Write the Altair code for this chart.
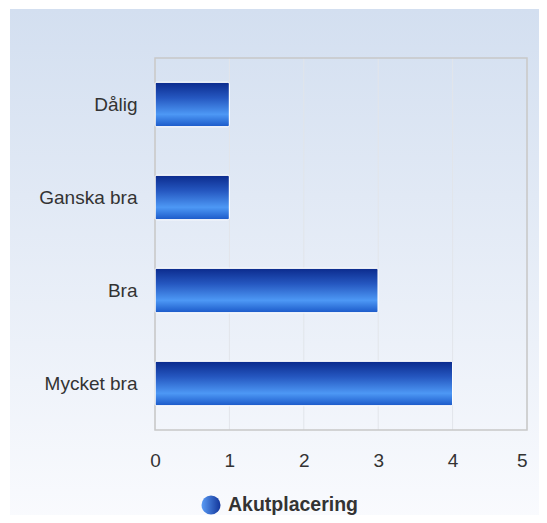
import altair as alt
import pandas as pd

categories = ["Dålig", "Ganska bra", "Bra", "Mycket bra"]
values = [1, 1, 3, 4]
series_name = "Akutplacering"
x_ticks = [0, 1, 2, 3, 4, 5]

df = pd.DataFrame({"kategori": categories, "antal": values, "serie": [series_name] * len(values)})
tick_df = pd.DataFrame({"tick": x_ticks})
legend_df = pd.DataFrame({"serie": [series_name]})
bg_df = pd.DataFrame({"a": [0]})

W, H = 372, 372

bar_grad = alt.Gradient(
    gradient="linear",
    x1=0, y1=0, x2=0, y2=1,
    stops=[
        alt.GradientStop(offset=0, color="#0b2a8c"),
        alt.GradientStop(offset=0.35, color="#2557c0"),
        alt.GradientStop(offset=0.72, color="#4d98f5"),
        alt.GradientStop(offset=1, color="#1a58c8"),
    ],
)
bg_grad = alt.Gradient(
    gradient="linear",
    x1=0, y1=0, x2=0, y2=1,
    stops=[
        alt.GradientStop(offset=0, color="#d3dff0"),
        alt.GradientStop(offset=1, color="#fafbfe"),
    ],
)
legend_grad = alt.Gradient(
    gradient="linear",
    x1=0, y1=0, x2=1, y2=0,
    stops=[
        alt.GradientStop(offset=0, color="#5a9cf5"),
        alt.GradientStop(offset=1, color="#12359a"),
    ],
)

x_scale = alt.Scale(domain=[0, 5], nice=False)

background = alt.Chart(bg_df).mark_rect(fill=bg_grad, clip=False).encode(
    x=alt.value(-145), x2=alt.value(W + 20), y=alt.value(-49), y2=alt.value(H + 100)
)

grid = alt.Chart(tick_df).mark_rule(color="#e2e5ea", strokeWidth=1).encode(
    x=alt.X("tick:Q", scale=x_scale, title=None),
    y=alt.value(0), y2=alt.value(H),
)

border = alt.Chart(bg_df).mark_rect(fill=None, stroke="#c8c8c8", strokeWidth=1.5, clip=False).encode(
    x=alt.value(0), x2=alt.value(W), y=alt.value(0), y2=alt.value(H)
)

bars = alt.Chart(df).mark_bar(
    fill=bar_grad, cornerRadius=2, stroke="white", strokeWidth=1
).encode(
    y=alt.Y("kategori:N", sort=categories, title=None,
            scale=alt.Scale(paddingInner=0.52, paddingOuter=0.26),
            axis=alt.Axis(ticks=False, domain=False, grid=False, labelFontSize=19,
                          labelColor="#333333", labelPadding=18, labelFont="Liberation Sans",
                          zindex=1)),
    x=alt.X("antal:Q", title=None, scale=x_scale,
            axis=alt.Axis(values=x_ticks, format="d", ticks=False, domain=False, grid=False,
                          labelFontSize=19, labelColor="#333333", labelPadding=21,
                          labelFont="Liberation Sans", labelFlush=False, zindex=1,
                          labelAlign={"condition": {"test": "datum.value == 5", "value": "right"},
                                      "value": "center"})),
)

legend_dot = alt.Chart(legend_df).mark_point(
    filled=True, fill=legend_grad, shape="circle", size=360, opacity=1, clip=False
).encode(x=alt.value(56), y=alt.value(H + 75))

legend_text = alt.Chart(legend_df).mark_text(
    align="left", baseline="middle", fontSize=19.5, fontWeight="bold",
    color="#333333", font="Liberation Sans", clip=False
).encode(x=alt.value(73), y=alt.value(H + 75), text="serie:N")

chart = alt.layer(background, grid, border, bars, legend_dot, legend_text).properties(
    width=W, height=H,
    autosize=alt.AutoSizeParams(type="none"),
    padding={"left": 147, "top": 50, "right": 12, "bottom": 85},
).configure_view(stroke=None).configure(background="white")

chart.save("out.html", embed_options={"renderer": "svg", "actions": False})
